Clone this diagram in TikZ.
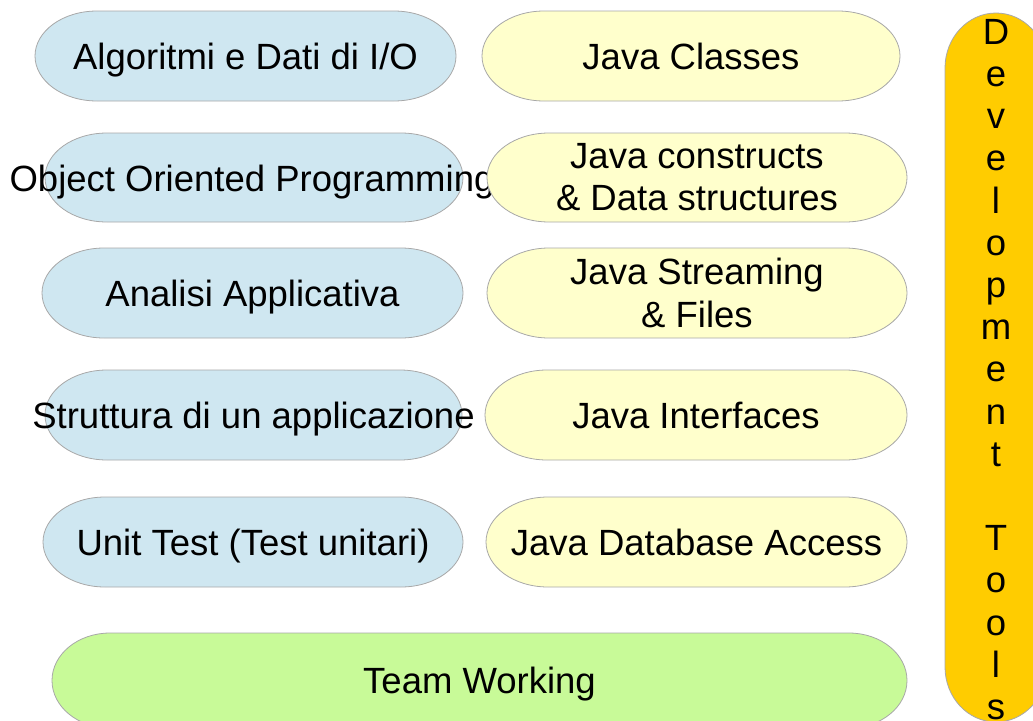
\documentclass[tikz,border=0pt]{standalone}
\usepackage{fontspec}
\setmainfont{Liberation Sans}
\definecolor{bluefill}{HTML}{CFE7F1}
\definecolor{yellowfill}{HTML}{FFFFCC}
\definecolor{greenfill}{HTML}{C8FA98}
\definecolor{orangefill}{HTML}{FFCC00}
\definecolor{edgegray}{HTML}{A8A8A8}
\newcommand\pillshape[7]{%
  \path[pillbox,fill=#1] (#2+#6,#3) -- (#4-#6,#3)
    arc[start angle=-90,end angle=0,x radius=#6,y radius=#7] -- (#4,#5-#7)
    arc[start angle=0,end angle=90,x radius=#6,y radius=#7] -- (#2+#6,#5)
    arc[start angle=90,end angle=180,x radius=#6,y radius=#7] -- (#2,#3+#7)
    arc[start angle=180,end angle=270,x radius=#6,y radius=#7] -- cycle;}
\begin{document}
\begin{tikzpicture}[x=1pt,y=-1pt,
  pillbox/.style={draw=edgegray,line width=0.8pt},
  lbl/.style={inner sep=0pt,font=\fontsize{36.5}{42.2}\selectfont,text=black,align=center},
  one/.style={lbl,anchor=base}]
\useasboundingbox (0,0) rectangle (1033,720);
\clip (0,0) rectangle (1033,720);
% row 1
\pillshape{bluefill}{35}{11}{456}{101}{62}{45}
\node[one] (b1) at (245.5,69) {Algoritmi e Dati di I/O};
\pillshape{yellowfill}{482}{11}{900}{101}{62}{45}
\node[one] (y1) at (691,69) {Java Classes};
% row 2
\pillshape{bluefill}{45}{133}{463}{222}{62}{44.5}
\node[one] (b2) at (252,191) {Object Oriented Programming};
\pillshape{yellowfill}{487}{133}{907}{222}{62}{44.5}
\node[lbl] (y2) at (697,177.5) {Java constructs\\ \& Data structures};
% row 3
\pillshape{bluefill}{42}{248}{463}{338}{62}{45}
\node[one] (b3) at (252.5,306) {Analisi Applicativa};
\pillshape{yellowfill}{487}{248}{907}{338}{62}{45}
\node[lbl] (y3) at (697,293) {Java Streaming\\ \& Files};
% row 4
\pillshape{bluefill}{45}{370}{462}{460}{62}{45}
\node[one] (b4) at (253.5,428) {Struttura di un applicazione};
\pillshape{yellowfill}{485}{370}{907}{460}{62}{45}
\node[one] (y4) at (696,428) {Java Interfaces};
% row 5
\pillshape{bluefill}{43}{497}{463}{587}{62}{45}
\node[one] (b5) at (253,555) {Unit Test (Test unitari)};
\pillshape{yellowfill}{486}{497}{907}{587}{62}{45}
\node[one] (y5) at (696.5,555) {Java Database Access};
% team working
\pillshape{greenfill}{52}{633}{907}{728}{58}{47.5}
\node[one] (tw) at (479.5,693) {Team Working};
% development tools
\pillshape{orangefill}{945}{13}{1047}{722}{51}{55}
\node[lbl,anchor=north] (dt) at (996,18.9) {D\\e\\v\\e\\l\\o\\p\\m\\e\\n\\t\\{}\\T\\o\\o\\l\\s};
\end{tikzpicture}
\end{document}
